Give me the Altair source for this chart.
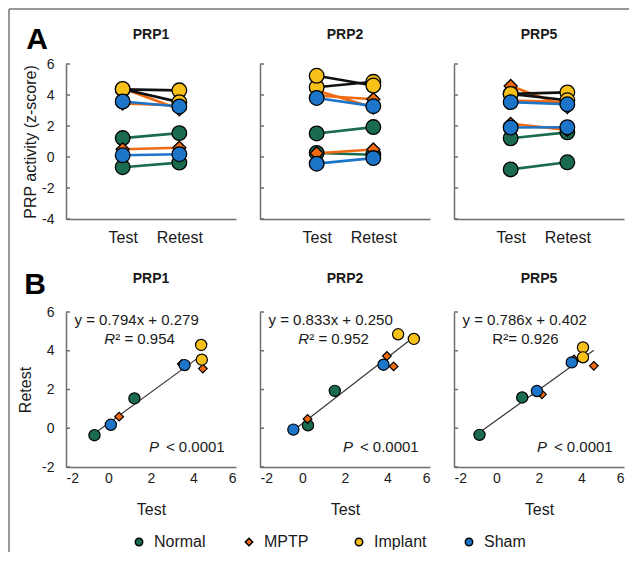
import altair as alt
import pandas as pd

FONT = "Liberation Sans"

# ---------------- data ----------------
groups = ["Normal", "MPTP", "Implant", "Sham"]
group_fill = ["#1b6b4f", "#f06a12", "#f7c11a", "#1c75c8"]
group_line = ["#1b6b4f", "#f06a12", "#111111", "#1c75c8"]
group_shape = ["circle", "diamond", "circle", "circle"]

subject_group = ["Normal", "Normal", "MPTP", "MPTP", "MPTP", "Implant", "Implant", "Sham", "Sham"]
subject_id = ["N1", "N2", "M1", "M2", "M3", "I1", "I2", "S1", "S2"]

panel_names = ["PRP1", "PRP2", "PRP5"]

prp1_test = [-0.66, 1.22, 0.50, 3.45, 4.44, 4.36, 4.39, 0.11, 3.58]
prp1_retest = [-0.36, 1.54, 0.60, 3.32, 3.08, 4.30, 3.54, 0.18, 3.26]
prp2_test = [0.26, 1.52, 0.24, 3.97, 4.29, 4.50, 5.24, -0.43, 3.81]
prp2_retest = [0.15, 1.93, 0.48, 3.73, 3.19, 4.85, 4.61, -0.07, 3.28]
prp5_test = [-0.80, 1.21, 2.14, 3.65, 4.58, 4.07, 4.07, 1.90, 3.54]
prp5_retest = [-0.34, 1.59, 1.75, 3.55, 3.22, 4.17, 3.66, 1.92, 3.40]

tests = [prp1_test, prp2_test, prp5_test]
retests = [prp1_retest, prp2_retest, prp5_retest]

phases = ["Test", "Retest"]
a_ticks = [-4, -2, 0, 2, 4, 6]
b_ticks = [-2, 0, 2, 4, 6]

eq_text = ["y = 0.794x + 0.279", "y = 0.833x + 0.250", "y = 0.786x + 0.402"]
r2_main = ["R", "R", "R"]
r2_rest = ["\u00b2 = 0.954", "\u00b2 = 0.952", "\u00b2= 0.926"]
r2_italic = [True, True, False]
p_main = "P"
p_rest = "< 0.0001"

# annotation anchor positions (data units)
eq_pos = (-1.6, 5.6)
r2_pos = (-0.2, 4.6)
p_pos = (1.9, -0.95)

# ---------------- style ----------------
W, H = 170, 155
AXIS = "#6e6e6e"
TXT = "#1a1a1a"
LABEL_EXPR = "'' + datum.value"

fill_scale = alt.Scale(domain=groups, range=group_fill)
shape_scale = alt.Scale(domain=groups, range=group_shape)
line_scale = alt.Scale(domain=groups, range=group_line)

one = pd.DataFrame({"k": [0]})


def panel_a(i):
    name = panel_names[i]
    rows = []
    for s, g, t in zip(subject_id, subject_group, tests[i]):
        rows.append({"subject": s, "group": g, "phase": "Test", "value": t})
    for s, g, r in zip(subject_id, subject_group, retests[i]):
        rows.append({"subject": s, "group": g, "phase": "Retest", "value": r})
    df = pd.DataFrame(rows)

    x = alt.X("phase:N", sort=phases,
              scale=alt.Scale(type="point", padding=1.5),
              axis=alt.Axis(title=None, labelAngle=0, ticks=False, labelPadding=10,
                            labelFontSize=16))
    if i == 0:
        yaxis = alt.Axis(values=a_ticks, tickSize=0, labelPadding=12, labelFontSize=14,
                         labelOverlap=False, labelExpr=LABEL_EXPR,
                         title="PRP activity (z-score)", titleFontSize=16, titlePadding=3)
    else:
        yaxis = alt.Axis(values=a_ticks, tickSize=0, labels=False, title=None)
    yscale = alt.Scale(domain=[-4, 6], nice=False, zero=False)
    y = alt.Y("value:Q", scale=yscale, axis=yaxis)

    base = alt.Chart(df)
    lines = base.mark_line(strokeWidth=2.6).encode(
        x=x, y=y, detail="subject:N",
        color=alt.Color("group:N", scale=line_scale, legend=None),
    )
    pts = base.mark_point(filled=True, stroke="black", strokeWidth=1.3, opacity=1).encode(
        x=x, y=y,
        fill=alt.Fill("group:N", scale=fill_scale, legend=None),
        shape=alt.Shape("group:N", scale=shape_scale, legend=None),
        size=alt.condition(alt.datum.group == "MPTP", alt.value(170), alt.value(215)),
    )
    ticks = alt.Chart(pd.DataFrame({"value": a_ticks})).mark_rule(
        color=AXIS, strokeWidth=1.5
    ).encode(y=alt.Y("value:Q", scale=yscale, axis=yaxis), x=alt.value(0), x2=alt.value(4))

    title = alt.Chart(pd.DataFrame({"t": [name]})).mark_text(
        font=FONT, fontSize=14, fontWeight="bold", color=TXT, align="center", baseline="middle"
    ).encode(text="t:N", x=alt.value(W / 2), y=alt.value(-29))

    layers = [lines, pts, ticks, title]
    if i == 0:
        letter = alt.Chart(pd.DataFrame({"t": ["A"]})).mark_text(
            font=FONT, fontSize=30, fontWeight="bold", color="black", align="center", baseline="middle"
        ).encode(text="t:N", x=alt.value(-29), y=alt.value(-24))
        frame_top = alt.Chart(one).mark_rule(color="#777777", strokeWidth=1.5).encode(
            x=alt.value(-57), x2=alt.value(563), y=alt.value(-55))
        frame_left = alt.Chart(one).mark_rule(color="#777777", strokeWidth=1.5).encode(
            x=alt.value(-57), y=alt.value(-55), y2=alt.value(488))
        layers += [letter, frame_top, frame_left]
    return alt.layer(*layers).properties(width=W, height=H)


def legend_layer():
    ldf = pd.DataFrame({"group": groups})
    lx = alt.X("group:N", sort=groups,
               scale=alt.Scale(type="point", domain=groups, range=[73, 403], padding=0),
               axis=None)
    sym = alt.Chart(ldf).mark_point(filled=True, stroke="black", strokeWidth=1.5, opacity=1, size=55).encode(
        x=lx, y=alt.value(230),
        fill=alt.Fill("group:N", scale=fill_scale, legend=None),
        shape=alt.Shape("group:N", scale=shape_scale, legend=None),
    )
    lab = alt.Chart(ldf).mark_text(
        font=FONT, fontSize=16, color=TXT, align="left", baseline="middle", dx=15
    ).encode(x=lx, y=alt.value(230), text="group:N")
    return alt.layer(sym, lab)


def panel_b(i):
    name = panel_names[i]
    df = pd.DataFrame({"subject": subject_id, "group": subject_group,
                       "test": tests[i], "retest": retests[i]})
    xscale = alt.Scale(domain=[-2, 6], nice=False, zero=False)
    yscale = alt.Scale(domain=[-2, 6], nice=False, zero=False)
    xaxis = alt.Axis(values=b_ticks, tickSize=0, labelPadding=4, labelFontSize=14,
                     labelOverlap=False, labelExpr=LABEL_EXPR,
                     title="Test", titleFontSize=16, titlePadding=16)
    if i == 0:
        yaxis = alt.Axis(values=b_ticks, tickSize=0, labelPadding=12, labelFontSize=14,
                         labelOverlap=False, labelExpr=LABEL_EXPR,
                         title="Retest", titleFontSize=16, titlePadding=8)
    else:
        yaxis = alt.Axis(values=b_ticks, tickSize=0, labels=False, title=None)
    x = alt.X("test:Q", scale=xscale, axis=xaxis)
    y = alt.Y("retest:Q", scale=yscale, axis=yaxis)

    base = alt.Chart(df)
    reg = base.transform_regression("test", "retest").mark_line(
        color="#333333", strokeWidth=1.1).encode(x=x, y=y)
    pts = base.mark_point(filled=True, stroke="black", strokeWidth=1.2, opacity=1).encode(
        x=x, y=y,
        fill=alt.Fill("group:N", scale=fill_scale, legend=None),
        shape=alt.Shape("group:N", scale=shape_scale, legend=None),
        size=alt.condition(alt.datum.group == "MPTP", alt.value(75), alt.value(125)),
    )
    ticks = alt.Chart(pd.DataFrame({"retest": b_ticks})).mark_rule(
        color=AXIS, strokeWidth=1.5
    ).encode(y=y, x=alt.value(0), x2=alt.value(4))

    def txt(s, px, py, italic=False, dx=0):
        return alt.Chart(pd.DataFrame({"test": [px], "retest": [py], "t": [s]})).mark_text(
            font=FONT, fontSize=15, color=TXT, align="left", baseline="middle",
            fontStyle="italic" if italic else "normal", dx=dx
        ).encode(x=x, y=y, text="t:N")

    eq = txt(eq_text[i], eq_pos[0], eq_pos[1])
    r_a = txt(r2_main[i], r2_pos[0], r2_pos[1], italic=r2_italic[i])
    r_b = txt(r2_rest[i], r2_pos[0], r2_pos[1], dx=11)
    p_a = txt(p_main, p_pos[0], p_pos[1], italic=True)
    p_b = txt(p_rest, p_pos[0], p_pos[1], dx=17)

    title = alt.Chart(pd.DataFrame({"t": [name]})).mark_text(
        font=FONT, fontSize=14, fontWeight="bold", color=TXT, align="center", baseline="middle"
    ).encode(text="t:N", x=alt.value(W / 2), y=alt.value(-33))

    layers = [reg, pts, ticks, eq, r_a, r_b, p_a, p_b, title]
    if i == 0:
        letter = alt.Chart(pd.DataFrame({"t": ["B"]})).mark_text(
            font=FONT, fontSize=30, fontWeight="bold", color="black", align="center", baseline="middle"
        ).encode(text="t:N", x=alt.value(-31), y=alt.value(-27))
        layers.append(letter)
        main = alt.layer(*layers)
        return alt.layer(main, legend_layer()).resolve_scale(
            x="independent"
        ).resolve_axis(x="independent").properties(width=W, height=H)
    return alt.layer(*layers).properties(width=W, height=H)


panels = [panel_a(i) for i in range(3)] + [panel_b(i) for i in range(3)]

chart = alt.concat(
    *panels, columns=3, spacing={"row": 93, "column": 24}, bounds="flush"
).properties(
    padding=0
).configure(
    font=FONT
).configure_view(
    strokeWidth=0
).configure_axis(
    domainColor=AXIS, domainWidth=1.5, labelColor=TXT, titleColor=TXT,
    labelFont=FONT, titleFont=FONT, grid=False, titleFontWeight="normal"
)

chart.save("out.html", embed_options={"renderer": "svg", "actions": False})
